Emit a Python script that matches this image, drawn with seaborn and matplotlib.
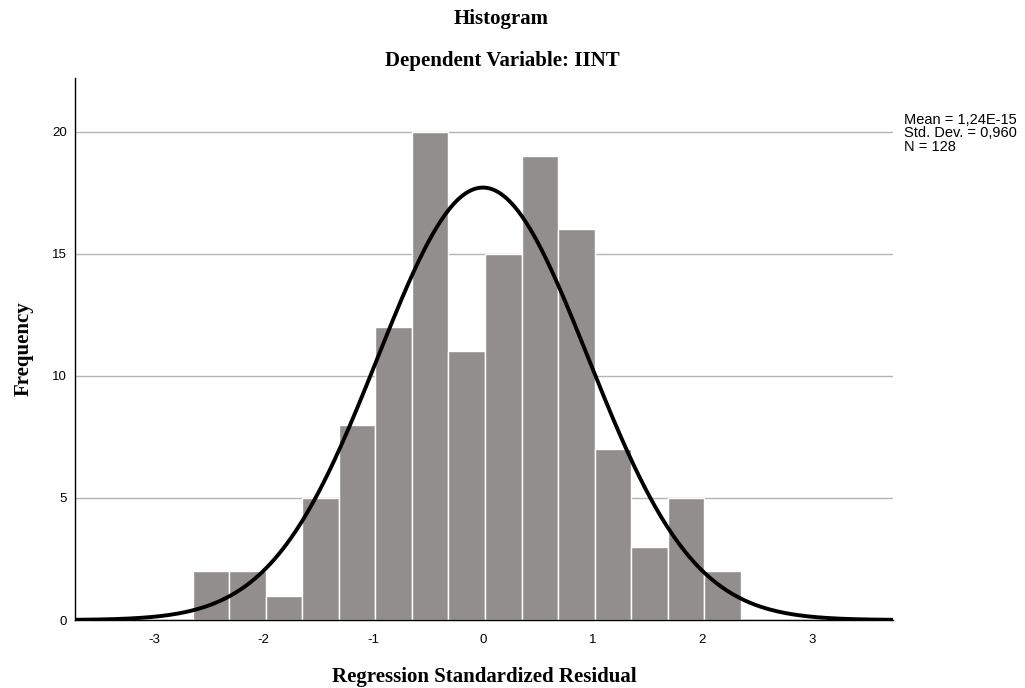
import numpy as np
import pandas as pd
import matplotlib
matplotlib.use("Agg")
import matplotlib.pyplot as plt
import seaborn as sns

# Histogram of regression standardized residuals
bin_start = -2.645
bin_width = 0.333
counts = [2, 2, 1, 5, 8, 12, 20, 11, 15, 19, 16, 7, 3, 5, 2]
n_obs = 128
mean_val = 1.24e-15
std_val = 0.960
x_ticks = [-3, -2, -1, 0, 1, 2, 3]
y_ticks = [0, 5, 10, 15, 20]

edges = [bin_start + bin_width * i for i in range(len(counts) + 1)]
centers = [(a + b) / 2 for a, b in zip(edges[:-1], edges[1:])]
df = pd.DataFrame({"resid": centers, "freq": counts})

sns.set_style("white")
plt.rcParams["font.family"] = ["Liberation Sans", "DejaVu Sans"]
plt.rcParams["axes.unicode_minus"] = False
plt.rcParams["text.color"] = "black"
plt.rcParams["axes.labelcolor"] = "black"
plt.rcParams["xtick.color"] = "black"
plt.rcParams["ytick.color"] = "black"

fig = plt.figure(figsize=(10.25, 6.88), dpi=100)
ax = fig.add_axes([0.0732, 0.0988, 0.7980, 0.7878])

ax.set_axisbelow(True)
ax.yaxis.grid(True, color="#b4b4b4", linewidth=1.0)
ax.xaxis.grid(False)

sns.histplot(data=df, x="resid", weights="freq", bins=edges, ax=ax,
             color="#928e8d", alpha=1.0, edgecolor="white", linewidth=1.0)

xs = np.linspace(-3.72, 3.74, 600)
pdf = np.exp(-0.5 * ((xs - mean_val) / std_val) ** 2) / (std_val * np.sqrt(2 * np.pi))
sns.lineplot(x=xs, y=pdf * n_obs * bin_width, ax=ax, color="black",
             linewidth=2.8, solid_capstyle="butt")

ax.set_xlim(-3.72, 3.74)
ax.set_ylim(0, 22.2)
ax.set_xticks(x_ticks)
ax.set_yticks(y_ticks)
ax.tick_params(axis="both", labelsize=9.5, length=0, pad=6)
ax.tick_params(axis="x", pad=10)

for side in ["top", "right"]:
    ax.spines[side].set_visible(False)
ax.spines["left"].set_color("black")
ax.spines["left"].set_linewidth(1.0)
ax.spines["bottom"].set_color("black")
ax.spines["bottom"].set_linewidth(1.0)

serif = ["Liberation Serif", "DejaVu Serif"]
ax.set_xlabel("Regression Standardized Residual", fontsize=15,
              fontweight="bold", family=serif, labelpad=15)
ax.set_ylabel("Frequency", fontsize=15, fontweight="bold", family=serif,
              labelpad=13)

fig.text(0.489, 0.973, "Histogram", ha="center", va="center", fontsize=15,
         fontweight="bold", family=serif)
fig.text(0.490, 0.912, "Dependent Variable: IINT", ha="center", va="center",
         fontsize=15, fontweight="bold", family=serif)

fig.text(0.882, 0.836,
         "Mean = 1,24E-15\nStd. Dev. = 0,960\nN = 128",
         ha="left", va="top", fontsize=10.5, linespacing=0.95)

fig.savefig("out.png", dpi=100)
